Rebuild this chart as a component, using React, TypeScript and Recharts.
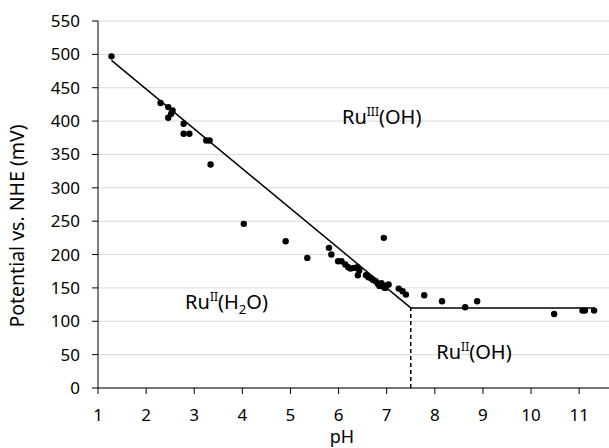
import React from "react";
import {
  CartesianGrid,
  ReferenceDot,
  ReferenceLine,
  Scatter,
  ScatterChart,
  XAxis,
  YAxis,
} from "recharts";

// measured points (pH, potential in mV vs NHE)
const phValues = [
  1.28, 2.3, 2.46, 2.55, 2.52, 2.46, 2.78, 2.78, 2.9, 3.25, 3.32, 3.34, 4.03,
  4.9, 5.35, 5.8, 5.85, 5.99, 6.06, 6.14, 6.2, 6.25, 6.32, 6.39, 6.43, 6.4,
  6.57, 6.62, 6.68, 6.72, 6.77, 6.82, 6.85, 6.89, 6.94, 6.97, 7.0, 7.04, 6.94,
  7.25, 7.33, 7.4, 7.78, 8.15, 8.63, 8.88, 10.48, 11.07, 11.12, 11.31,
];
const potentialValues = [
  497, 427, 421, 416, 411, 405, 396, 381, 381, 371, 371, 335, 246, 220, 195,
  210, 200, 190, 190, 185, 181, 179, 180, 181, 176, 169, 169, 166, 164, 162,
  160, 156, 153, 157, 151, 150, 154, 155, 225, 149, 145, 140, 139, 130, 121,
  130, 111, 116, 116, 116,
];

// Pourbaix boundaries
const acidLine = [
  { x: 1.28, y: 491 },
  { x: 7.5, y: 120 },
];
const baseLine = [
  { x: 7.5, y: 120 },
  { x: 11.33, y: 120 },
];
const pkaLine = [
  { x: 7.5, y: 0 },
  { x: 7.5, y: 120 },
];

const xTicks = [1, 2, 3, 4, 5, 6, 7, 8, 9, 10, 11];
const yTicks = [0, 50, 100, 150, 200, 250, 300, 350, 400, 450, 500, 550];

// region labels: [base, superscript, rest, subscript, tail], anchored at (pH, mV)
const regions = [
  { x: 6.07, y: 396, parts: ["Ru", "III", "(OH)", "", ""] },
  { x: 2.81, y: 118, parts: ["Ru", "II", "(H", "2", "O)"] },
  { x: 8.03, y: 44, parts: ["Ru", "II", "(OH)", "", ""] },
];

const points = phValues.map((ph, i) => ({ ph, mv: potentialValues[i] }));

const font = "'Noto Sans', sans-serif";

function regionLabel(parts: string[]) {
  return (props: any) => {
    const vb = props.viewBox || {};
    const x = vb.x + (vb.width || 0) / 2;
    const y = vb.y + (vb.height || 0) / 2;
    return (
      <text x={x} y={y} fontFamily={font} fontSize={20} fill="#000">
        <tspan>{parts[0]}</tspan>
        <tspan dy={-8} fontSize={12}>
          {parts[1]}
        </tspan>
        <tspan dy={8}>{parts[2]}</tspan>
        {parts[3] ? (
          <>
            <tspan dy={5} fontSize={13}>
              {parts[3]}
            </tspan>
            <tspan dy={-5}>{parts[4]}</tspan>
          </>
        ) : null}
      </text>
    );
  };
}

export default function App() {
  return (
    <div style={{ position: "fixed", left: 0, top: 0, background: "#fff" }}>
      <ScatterChart
        width={609}
        height={448}
        margin={{ top: 21, right: 0, bottom: 0, left: 0 }}
      >
        <CartesianGrid stroke="#d9d9d9" vertical={false} />
        <XAxis
          type="number"
          dataKey="ph"
          domain={[1, 11.62]}
          ticks={xTicks}
          height={60}
          allowDataOverflow
          stroke="#000"
          tickSize={6}
          tickMargin={15}
          tick={{ fill: "#000", fontSize: 17, fontFamily: font }}
          label={() => (
            <text
              x={342}
              y={443}
              textAnchor="middle"
              fontFamily={font}
              fontSize={18}
              fill="#000"
            >
              pH
            </text>
          )}
        />
        <YAxis
          type="number"
          dataKey="mv"
          domain={[0, 550]}
          ticks={yTicks}
          width={98}
          stroke="#000"
          tickSize={6}
          tickMargin={12}
          tick={{ fill: "#000", fontSize: 17, fontFamily: font }}
          label={() => (
            <text
              x={24}
              y={226}
              transform="rotate(-90 24 226)"
              textAnchor="middle"
              fontFamily={font}
              fontSize={19.5}
              fill="#000"
            >
              Potential vs. NHE (mV)
            </text>
          )}
        />
        <ReferenceLine segment={acidLine} stroke="#000" strokeWidth={1.5} />
        <ReferenceLine segment={baseLine} stroke="#000" strokeWidth={1.5} />
        <ReferenceLine
          segment={pkaLine}
          stroke="#000"
          strokeWidth={1.5}
          strokeDasharray="4 3"
        />
        <Scatter
          data={points}
          isAnimationActive={false}
          shape={(p: any) => <circle cx={p.cx} cy={p.cy} r={3.2} fill="#000" />}
        />
        {regions.map((r) => (
          <ReferenceDot
            key={r.parts.join("")}
            x={r.x}
            y={r.y}
            r={0}
            stroke="none"
            fill="none"
            label={regionLabel(r.parts)}
          />
        ))}
      </ScatterChart>
    </div>
  );
}
